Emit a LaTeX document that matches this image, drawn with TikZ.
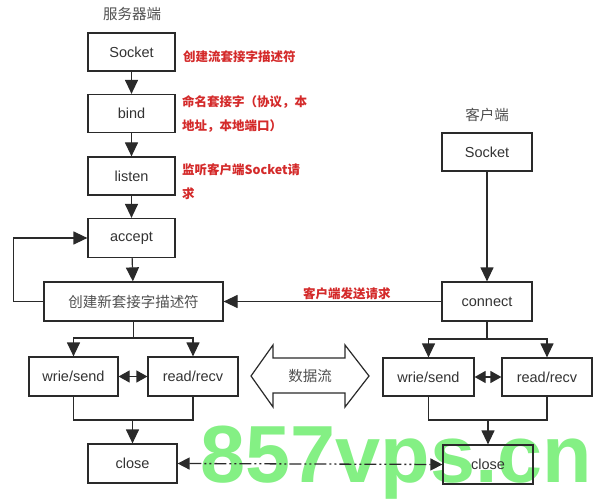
\documentclass[tikz,border=0pt]{standalone}
\usepackage{fontspec}
\setmainfont{Liberation Sans}
\newfontfamily\cjk{Noto Sans CJK SC}
\usetikzlibrary{arrows.meta}
\definecolor{ln}{HTML}{2A2A2A}
\definecolor{redt}{HTML}{D42A2A}
\definecolor{grayt}{HTML}{505050}
\definecolor{wm}{HTML}{84F084}
\begin{document}
\begin{tikzpicture}[x=1pt,y=-1pt,
  box/.style={draw=ln,line width=1.2pt,inner sep=0pt,text=black!80,
    font=\fontsize{14.5}{16}\selectfont},
  arr/.style={draw=ln,line width=1.2pt,-{Triangle[length=14pt,width=13pt]}},
  plain/.style={draw=ln,line width=1.2pt},
  darr/.style={draw=ln,line width=1.2pt,{Triangle[length=11pt,width=12pt]}-{Triangle[length=11pt,width=12pt]}},
  dd/.style={draw=ln,line width=1.3pt,dash pattern=on 12pt off 3pt on 2pt off 3pt on 2pt off 3pt,
    {Triangle[length=12pt,width=12pt]}-{Triangle[length=12pt,width=12pt]}},
  redlab/.style={text=redt,inner sep=0pt,align=left,anchor=west,
    font=\cjk\bfseries\fontsize{12.5}{24}\selectfont},
  graylab/.style={text=grayt,inner sep=0pt,font=\cjk\fontsize{14.5}{16}\selectfont}
]
\useasboundingbox (0,0) rectangle (611,500);
\fill[white] (0,0) rectangle (611,500);
% watermark
\node[anchor=base,inner sep=0pt,text=wm,font=\bfseries\fontsize{81}{81}\selectfont] (wmark) at (396.5,482) {857vps.cn};

% titles
\node[graylab] (stitle) at (132,14) {服务器端};
\node[graylab] (ctitle) at (487,115) {客户端};

% server boxes
\node[box,minimum width=87pt,minimum height=38pt] (ssock) at (131.5,52) {Socket};
\node[box,minimum width=87pt,minimum height=38pt] (sbind) at (131.5,113.5) {bind};
\node[box,minimum width=87pt,minimum height=38pt] (slisten) at (131.5,176) {listen};
\node[box,minimum width=87pt,minimum height=39pt] (saccept) at (131.5,238) {accept};
\node[box,minimum width=179pt,minimum height=39pt,font=\cjk\fontsize{14.5}{16}\selectfont,text=grayt] (snew) at (133.5,301.5) {创建新套接字描述符};
\node[box,minimum width=89pt,minimum height=39pt] (swrite) at (73.5,376.5) {wrie/send};
\node[box,minimum width=90pt,minimum height=39pt] (sread) at (193,376.5) {read/recv};
\node[box,minimum width=89pt,minimum height=39pt] (sclose) at (132.5,463.5) {close};

% client boxes
\node[box,minimum width=90pt,minimum height=38pt] (csock) at (487,152) {Socket};
\node[box,minimum width=90pt,minimum height=39pt] (cconn) at (487,301.5) {connect};
\node[box,minimum width=91pt,minimum height=38pt] (cwrite) at (428.5,377) {wrie/send};
\node[box,minimum width=90pt,minimum height=38pt] (cread) at (547,377) {read/recv};
\node[box,minimum width=90pt,minimum height=39pt] (cclose) at (488,464.5) {close};

% red annotations
\node[redlab] (n1) at (183,57) {创建流套接字描述符};
\node[redlab] (n2) at (182,114) {命名套接字（协议，本\\地址，本地端口）};
\node[redlab] (n3) at (182,181.5) {监听客户端Socket请\\求};

% server connectors
\draw[arr] (ssock) -- (sbind);
\draw[arr] (sbind) -- (slisten);
\draw[arr] (slisten) -- (saccept);
\draw[arr] (saccept) -- (snew);
\draw[arr] (snew.west) -- ++(-30,0) |- (saccept.west);
\coordinate (sfork) at (133.5,338);
\draw[plain] (snew.south) -- (sfork);
\draw[arr] (sfork) -| (swrite.north);
\draw[arr] (sfork) -| (sread.north);
\draw[darr] (swrite.east) -- (sread.west);
\coordinate (smerge) at (132.5,420);
\draw[plain] (swrite.south) |- (smerge);
\draw[plain] (sread.south) |- (smerge);
\draw[arr] (smerge) -- (sclose.north);

% client connectors
\draw[arr] (csock) -- (cconn);
\draw[arr] (cconn.west) -- node[pos=0.434,above,inner sep=1.5pt,text=redt,font=\cjk\bfseries\fontsize{12.5}{14}\selectfont] (reqlab) {客户端发送请求} (snew.east);
\coordinate (cfork) at (487,339);
\draw[plain] (cconn.south) -- (cfork);
\draw[arr] (cfork) -| (cwrite.north);
\draw[arr] (cfork) -| (cread.north);
\draw[darr] (cwrite.east) -- (cread.west);
\coordinate (cmerge) at (488,420);
\draw[plain] (cwrite.south) |- (cmerge);
\draw[plain] (cread.south) |- (cmerge);
\draw[arr] (cmerge) -- (cclose.north);

% close to close
\draw[dd] (sclose.east) -- (cclose.west);

% data flow arrow
\draw[plain,line join=miter] (251,376) -- (273,345) -- (273,358) -- (345,358) -- (345,345) -- (369,376)
  -- (345,407) -- (345,393) -- (273,393) -- (273,407) -- cycle;
\node[graylab] (flow) at (310,376) {数据流};
\end{tikzpicture}
\end{document}
